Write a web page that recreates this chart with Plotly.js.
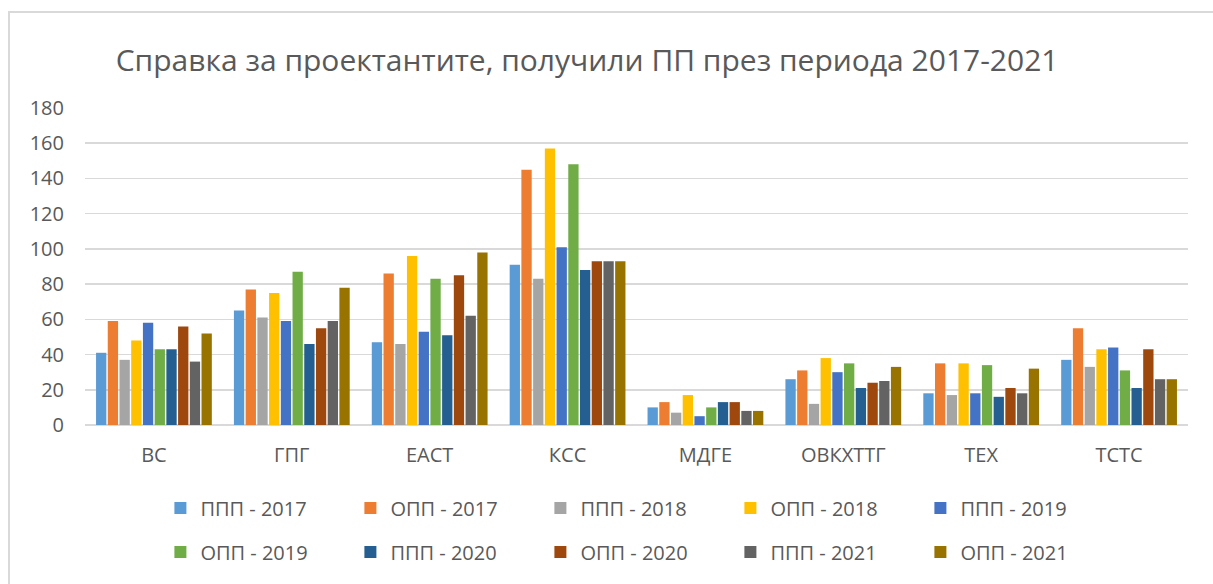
<!DOCTYPE html>
<html><head><meta charset="utf-8">
<script src="https://cdn.plot.ly/plotly-3.0.1.min.js"></script>
<style>html,body{margin:0;padding:0;background:#fff;overflow:hidden}#chart{width:1213px;height:584px}</style>
</head><body><div id="chart"></div>
<script>
const categories = ["ВС","ГПГ","ЕАСТ","КСС","МДГЕ","ОВКХТТГ","ТЕХ","ТСТС"];
const seriesNames = ["ППП - 2017","ОПП - 2017","ППП - 2018","ОПП - 2018","ППП - 2019","ОПП - 2019","ППП - 2020","ОПП - 2020","ППП - 2021","ОПП - 2021"];
const ppp2017 = [41,65,47,91,10,26,18,37];
const opp2017 = [59,77,86,145,13,31,35,55];
const ppp2018 = [37,61,46,83,7,12,17,33];
const opp2018 = [48,75,96,157,17,38,35,43];
const ppp2019 = [58,59,53,101,5,30,18,44];
const opp2019 = [43,87,83,148,10,35,34,31];
const ppp2020 = [43,46,51,88,13,21,16,21];
const opp2020 = [56,55,85,93,13,24,21,43];
const ppp2021 = [36,59,62,93,8,25,18,26];
const opp2021 = [52,78,98,93,8,33,32,26];
const seriesValues = [ppp2017,opp2017,ppp2018,opp2018,ppp2019,opp2019,ppp2020,opp2020,ppp2021,opp2021];
const colors = ["#5b9bd5","#ed7d31","#a5a5a5","#ffc000","#4472c4","#70ad47","#255e91","#9e480e","#636363","#997300"];

const traces = seriesNames.map((n,i)=>({
  type:'bar', name:n, x:categories, y:seriesValues[i],
  marker:{color:colors[i]}, legend: i < 5 ? 'legend' : 'legend2'
}));
const font = "Open Sans, Liberation Sans, Arial, sans-serif";
const legendBase = {orientation:'h', x:0.499, xanchor:'center', yanchor:'middle', entrywidth:145, entrywidthmode:'pixels',
    font:{family:font,size:20,color:'#595959'}, traceorder:'normal', itemwidth:30, bgcolor:'rgba(0,0,0,0)'};
const layout = {
  width:1213, height:584,
  margin:{l:85,r:25,t:108,b:159, autoexpand:false},
  paper_bgcolor:'#fff', plot_bgcolor:'#fff',
  title:{text:"Справка за проектантите, получили ПП през периода 2017-2021", x:0.484, xanchor:'center', y:0.897, yanchor:'middle',
    font:{family:font,size:30,color:'#595959'}},
  barmode:'group', bargap:0.15, bargroupgap:0.12,
  xaxis:{tickfont:{family:font,size:20,color:'#595959'}, showline:false, ticks:'', showgrid:false, ticklabelstandoff:16},
  yaxis:{range:[0,180], dtick:20, tickfont:{family:font,size:20,color:'#595959'}, gridcolor:'#d9d9d9', gridwidth:1.5,
    zeroline:true, zerolinecolor:'#d9d9d9', zerolinewidth:1.5, ticks:'', ticklabelstandoff:20},
  showlegend:true,
  legend:Object.assign({}, legendBase, {y:-0.262}),
  legend2:Object.assign({}, legendBase, {y:-0.401}),
  shapes:[{type:'rect', xref:'paper', yref:'paper', x0:-0.0689, x1:1.06, y0:-0.7, y1:1.303, line:{color:'#d9d9d9',width:2}}]
};
Plotly.newPlot('chart', traces, layout, {displayModeBar:false, staticPlot:true});
</script></body></html>
